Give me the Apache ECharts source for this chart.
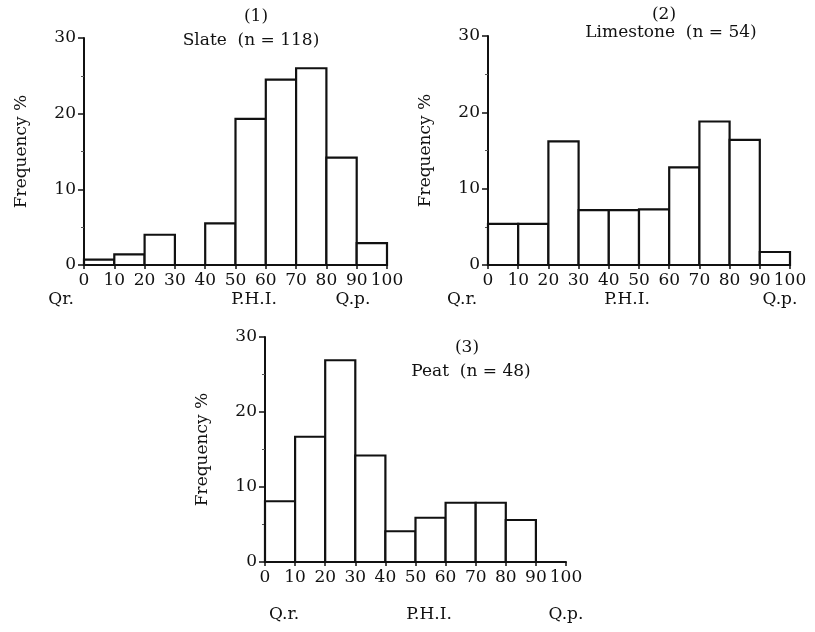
<!DOCTYPE html>
<html>
<head>
<meta charset="utf-8">
<script src="https://cdn.jsdelivr.net/npm/echarts@6/dist/echarts.min.js"></script>
<style>html,body{margin:0;padding:0;background:#fff}#c{width:815px;height:632px}</style>
</head>
<body>
<div id="c"></div>
<script>
// ---- data ----
const binEdges = [0, 10, 20, 30, 40, 50, 60, 70, 80, 90, 100];
const slateValues = [0.7, 1.4, 4.0, 0, 5.5, 19.3, 24.5, 26.0, 14.2, 2.9];
const limestoneValues = [5.4, 5.4, 16.2, 7.2, 7.2, 7.3, 12.8, 18.8, 16.4, 1.7];
const peatValues = [8.1, 16.7, 26.9, 14.2, 4.1, 5.9, 7.9, 7.9, 5.6, 0];
const panelNumbers = ['(1)', '(2)', '(3)'];
const panelNames = ['Slate  (n = 118)', 'Limestone  (n = 54)', 'Peat  (n = 48)'];
const bottomLabels = [
  ['Qr.', 'P.H.I.', 'Q.p.'],
  ['Q.r.', 'P.H.I.', 'Q.p.'],
  ['Q.r.', 'P.H.I.', 'Q.p.']
];
const yAxisName = 'Frequency %';

// ---- layout ----
const FONT = 'DejaVu Serif';
const grids = [
  {left: 84, top: 38, width: 303, height: 227},
  {left: 488, top: 36, width: 302, height: 229},
  {left: 265, top: 337, width: 301, height: 225}
];
const titlePos = [
  {num: [256, 17], name: [251, 41]},
  {num: [664, 15], name: [671, 33]},
  {num: [467, 348], name: [471, 372]}
];
const bottomPos = [
  {y: 300, xs: [61, 254, 353]},
  {y: 300, xs: [462, 627, 780]},
  {y: 615, xs: [284, 429, 566]}
];
const allValues = [slateValues, limestoneValues, peatValues];

function binData(values) {
  return values.map((v, i) => [binEdges[i], binEdges[i + 1], v]);
}

function renderBar(params, api) {
  const y = api.value(2);
  if (!y) return null;
  const p0 = api.coord([api.value(0), 0]);
  const p1 = api.coord([api.value(1), y]);
  return {
    type: 'rect',
    shape: {x: p0[0], y: p1[1], width: p1[0] - p0[0], height: p0[1] - p1[1]},
    style: {fill: '#fff', stroke: '#111', lineWidth: 2.2}
  };
}

const axisText = {color: '#111', fontFamily: FONT, fontSize: 17};

const option = {
  backgroundColor: '#fff',
  animation: false,
  grid: grids.map(g => Object.assign({containLabel: false}, g)),
  xAxis: grids.map((g, i) => ({
    gridIndex: i, type: 'value', min: 0, max: 100, interval: 10,
    axisLine: {show: true, lineStyle: {color: '#111', width: 2}},
    axisTick: {show: true, length: 4, lineStyle: {color: '#111', width: 1.5}},
    splitLine: {show: false},
    axisLabel: Object.assign({margin: 7}, axisText)
  })),
  yAxis: grids.map((g, i) => ({
    gridIndex: i, type: 'value', min: 0, max: 30, interval: 10,
    name: yAxisName, nameLocation: 'middle', nameGap: 54,
    nameTextStyle: {color: '#111', fontFamily: FONT, fontSize: 17},
    axisLine: {show: true, lineStyle: {color: '#111', width: 2}},
    axisTick: {show: true, length: 6, lineStyle: {color: '#111', width: 1.5}},
    minorTick: {show: true, splitNumber: 2, length: 3, lineStyle: {color: '#555', width: 1}},
    splitLine: {show: false},
    axisLabel: Object.assign({margin: 8}, axisText)
  })),
  series: allValues.map((vals, i) => ({
    type: 'custom', xAxisIndex: i, yAxisIndex: i,
    renderItem: renderBar,
    encode: {x: [0, 1], y: 2},
    data: binData(vals),
    z: 3
  })),
  graphic: []
};

panelNumbers.forEach((t, i) => {
  option.graphic.push({type: 'text', x: titlePos[i].num[0], y: titlePos[i].num[1],
    style: {text: t, fill: '#111', font: '17px "' + FONT + '"', align: 'center', verticalAlign: 'middle'}});
  option.graphic.push({type: 'text', x: titlePos[i].name[0], y: titlePos[i].name[1],
    style: {text: panelNames[i], fill: '#111', font: '17px "' + FONT + '"', align: 'center', verticalAlign: 'middle'}});
  bottomLabels[i].forEach((lab, j) => {
    option.graphic.push({type: 'text', x: bottomPos[i].xs[j], y: bottomPos[i].y,
      style: {text: lab, fill: '#111', font: '17px "' + FONT + '"', align: 'center', verticalAlign: 'middle'}});
  });
});

const chart = echarts.init(document.getElementById('c'), null, {renderer: 'canvas'});
chart.setOption(option);
</script>
</body>
</html>
